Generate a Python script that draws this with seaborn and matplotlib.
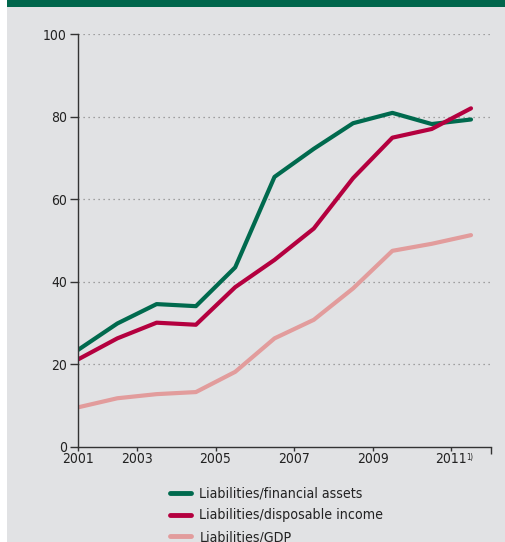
import matplotlib
matplotlib.use("Agg")
import matplotlib.pyplot as plt
from matplotlib.patches import Rectangle
import numpy as np
import pandas as pd
import seaborn as sns

# Observation index (evenly spaced periods) and axis labels
periods = list(range(11))
tick_positions = [0, 1.5, 3.5, 5.5, 7.5, 9.5]
tick_labels = ["2001", "2003", "2005", "2007", "2009", "2011"]

series_names = [
    "Liabilities/financial assets",
    "Liabilities/disposable income",
    "Liabilities/GDP",
]
fin_assets = [23.5, 29.9, 34.6, 34.1, 43.5, 65.4, 72.2, 78.4, 80.9, 78.2, 79.3]
disp_income = [21.2, 26.3, 30.1, 29.6, 38.7, 45.3, 52.9, 65.1, 74.9, 77.0, 82.0]
gdp = [9.6, 11.8, 12.8, 13.3, 18.2, 26.3, 30.8, 38.4, 47.5, 49.2, 51.3]

colors = ["#006a4e", "#b4003f", "#e29c9c"]
BG = "#e1e2e4"

sns.set_theme(style="white")
plt.rcParams["font.family"] = ["DejaVu Sans"]
plt.rcParams["font.stretch"] = "condensed"

df = pd.DataFrame({
    "period": periods * 3,
    "value": fin_assets + disp_income + gdp,
    "series": [series_names[0]] * 11 + [series_names[1]] * 11 + [series_names[2]] * 11,
})

W, H = 506, 542
fig = plt.figure(figsize=(W / 100, H / 100), dpi=100, facecolor="white")

# panel background and header band
fig.patches.append(Rectangle((7 / W, 0), 1 - 7 / W, 1, transform=fig.transFigure,
                             facecolor=BG, edgecolor="none", zorder=-2))
fig.patches.append(Rectangle((7 / W, 1 - 7 / H), 1 - 7 / W, 7 / H, transform=fig.transFigure,
                             facecolor="#00664c", edgecolor="none", zorder=-1))

left, right, top, bottom = 78, 491, 34, 447
ax = fig.add_axes([left / W, 1 - bottom / H, (right - left) / W, (bottom - top) / H])
ax.set_facecolor("none")

sns.lineplot(data=df, x="period", y="value", hue="series", hue_order=series_names,
             palette=colors, linewidth=3.0, ax=ax, legend=True)

x_max = (right - left) / 39.3
ax.set_xlim(0, x_max)
ax.set_ylim(0, 100)
ax.set_yticks([0, 20, 40, 60, 80, 100])
ax.set_xticks(tick_positions)
ax.set_xticklabels(tick_labels)
ax.set_xlabel("")
ax.set_ylabel("")

for y in [20, 40, 60, 80, 100]:
    ax.axhline(y, color="#8a8a8a", linestyle=(0, (1, 3)), linewidth=0.9, zorder=0)

for s in ["top", "right"]:
    ax.spines[s].set_visible(False)
for s in ["left", "bottom"]:
    ax.spines[s].set_color("#333333")
    ax.spines[s].set_linewidth(1.0)

ax.tick_params(axis="y", direction="out", length=6, width=1.0, color="#333333",
               labelsize=10, labelcolor="#222222", pad=2, left=True)
ax.tick_params(axis="x", direction="out", length=3, width=1.0, color="#333333",
               labelsize=10, labelcolor="#222222", pad=0.5, bottom=True)
# end tick at the right end of the time axis
ax.set_xticks([x_max], minor=True)
ax.tick_params(axis="x", which="minor", length=5, width=1.0, color="#333333", bottom=True)

ax.annotate("1)", xy=(9.5, 0), xycoords=("data", "axes fraction"),
            xytext=(10.5, -4.5), textcoords="offset points", fontsize=5.5,
            color="#222222", ha="left", va="top")

handles, labels = ax.get_legend_handles_labels()
ax.legend(handles, labels, loc="upper left", bbox_to_anchor=(164 / W, 1 - 481 / H),
          bbox_transform=fig.transFigure, frameon=False, fontsize=10.2,
          handlelength=1.5, handletextpad=0.6, labelspacing=0.55,
          borderaxespad=0, labelcolor="#222222")
for line in ax.get_legend().get_lines():
    line.set_linewidth(3.5)
    line.set_solid_capstyle("round")

fig.savefig("out.png", dpi=100, facecolor="white")
